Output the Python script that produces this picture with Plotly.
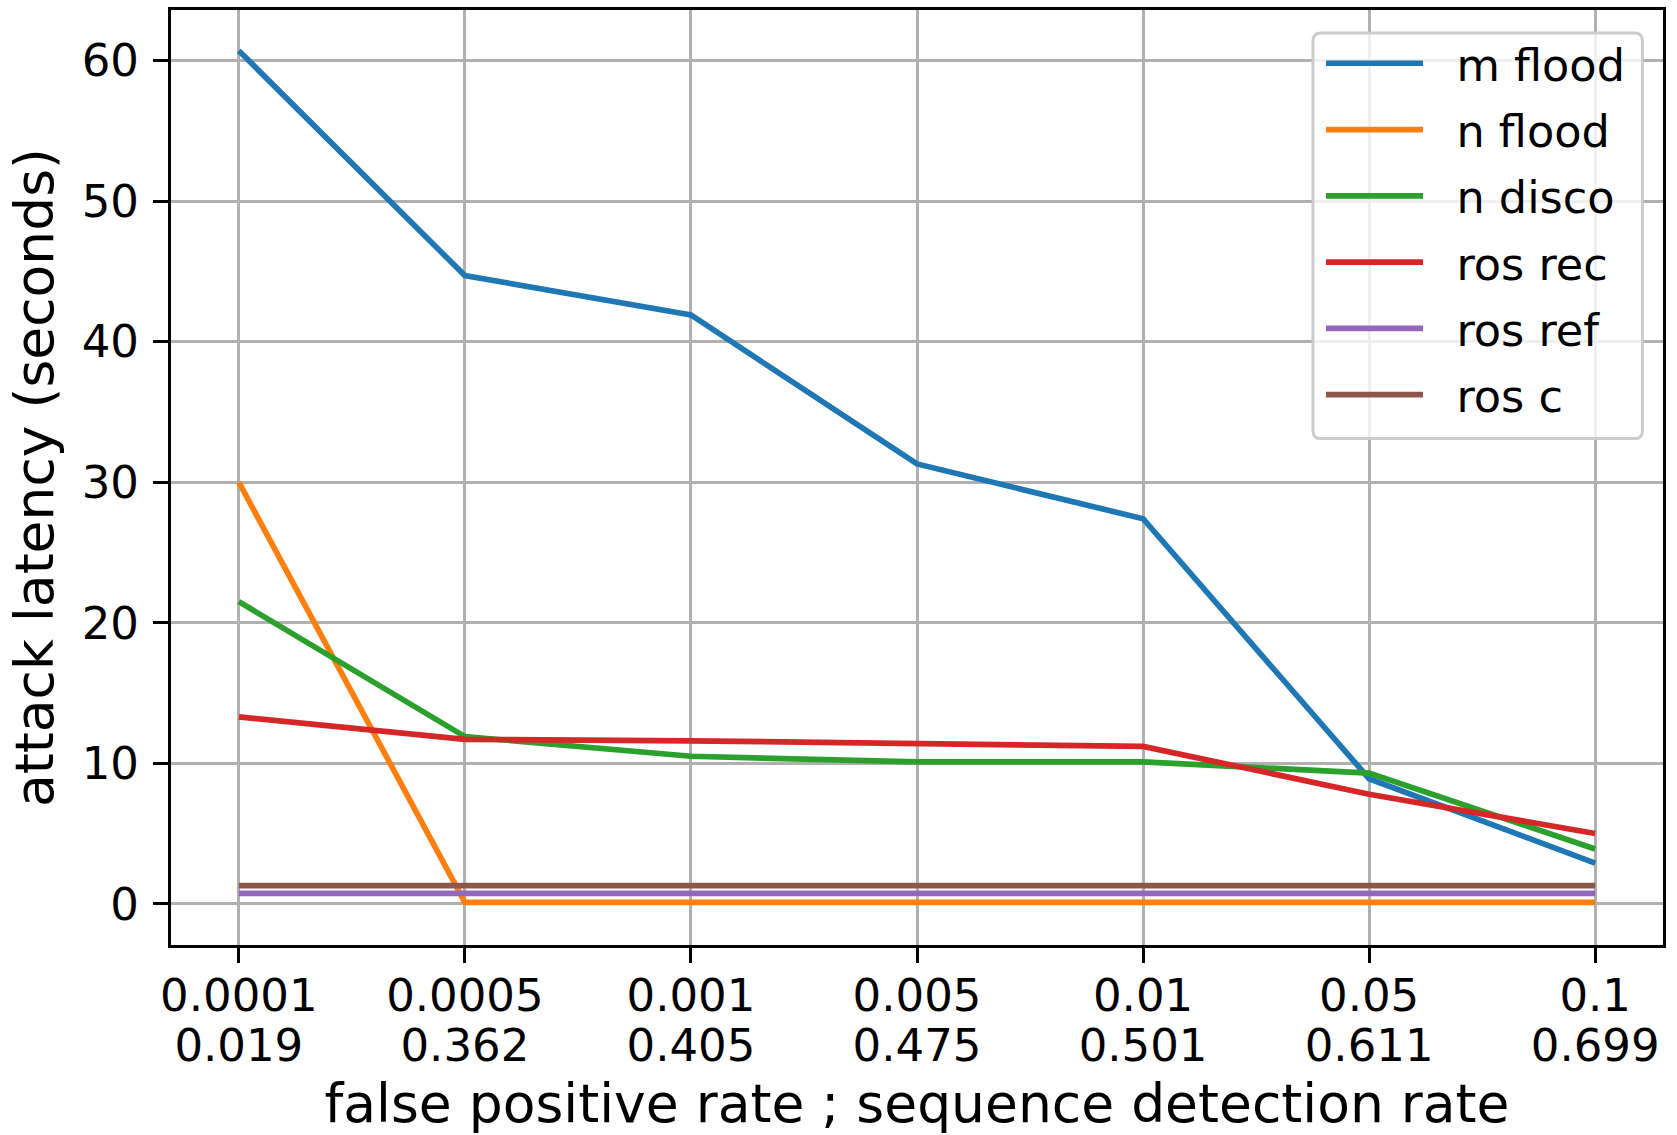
import plotly.graph_objects as go

fpr = ["0.0001", "0.0005", "0.001", "0.005", "0.01", "0.05", "0.1"]
sdr = ["0.019", "0.362", "0.405", "0.475", "0.501", "0.611", "0.699"]

m_flood = [60.7, 44.7, 41.9, 31.3, 27.4, 8.9, 2.9]
n_flood = [30.0, 0.1, 0.1, 0.1, 0.1, 0.1, 0.1]
n_disco = [21.5, 11.9, 10.5, 10.1, 10.1, 9.3, 3.9]
ros_rec = [13.3, 11.7, 11.6, 11.4, 11.2, 7.8, 5.0]
ros_ref = [0.75, 0.75, 0.75, 0.75, 0.75, 0.75, 0.75]
ros_c = [1.3, 1.3, 1.3, 1.3, 1.3, 1.3, 1.3]

series = [
    ("m flood", m_flood, "#1f77b4"),
    ("n flood", n_flood, "#ff7f0e"),
    ("n disco", n_disco, "#2ca02c"),
    ("ros rec", ros_rec, "#d62728"),
    ("ros ref", ros_ref, "#9467bd"),
    ("ros c", ros_c, "#8c564b"),
]

FONT = "DejaVu Sans"
TICK_FS = 45
LEG_FS = 44.6
TITLE_FS = 53.5
PAD = "\u00a0\u00a0"

n = len(sdr)
fig = go.Figure()
for name, vals, col in series:
    fig.add_trace(go.Scatter(
        x=fpr, y=vals, mode="lines", name=PAD + name,
        line=dict(color=col, width=5.7), legendgroup=name,
    ))
# helper trace (no visible marks) so the second-row tick axis is rendered
fig.add_trace(go.Scatter(
    x=list(range(n)), y=[None] * n, xaxis="x2", mode="lines",
    showlegend=False, hoverinfo="skip",
))

axis_common = dict(
    showline=True, linecolor="black", linewidth=3, mirror=True,
    ticks="outside", ticklen=15, tickwidth=3, tickcolor="black",
    showgrid=True, gridcolor="#b0b0b0", gridwidth=3, zeroline=False,
    tickfont=dict(family=FONT, size=TICK_FS, color="black"),
)

# legend frame (rounded), paper coordinates of the plot area
X0, X1, Y0, Y1 = 0.7654, 0.9862, 0.5416, 0.9755
RX, RY = 8 / 1492, 8 / 938
frame = (
    f"M{X0+RX},{Y1} L{X1-RX},{Y1} Q{X1},{Y1} {X1},{Y1-RY} "
    f"L{X1},{Y0+RY} Q{X1},{Y0} {X1-RX},{Y0} "
    f"L{X0+RX},{Y0} Q{X0},{Y0} {X0},{Y0+RY} "
    f"L{X0},{Y1-RY} Q{X0},{Y1} {X0+RX},{Y1} Z"
)

fig.update_layout(
    width=1677, height=1135,
    margin=dict(l=171, r=14, t=7, b=190),
    paper_bgcolor="white", plot_bgcolor="white",
    font=dict(family=FONT, size=TICK_FS, color="black"),
    xaxis=dict(
        **axis_common, type="category", range=[-0.3, n - 1 + 0.3],
        ticklabelstandoff=-6,
    ),
    xaxis2=dict(
        overlaying="x", anchor="y", side="bottom", type="linear",
        range=[-0.3, n - 1 + 0.3], tickmode="array",
        tickvals=list(range(n)), ticktext=sdr,
        showline=False, showgrid=False, zeroline=False,
        ticks="outside", ticklen=15, tickcolor="rgba(0,0,0,0)",
        ticklabelstandoff=46,
        tickfont=dict(family=FONT, size=TICK_FS, color="black"),
        title=dict(text="false positive rate ; sequence detection rate",
                   font=dict(family=FONT, size=TITLE_FS), standoff=11),
    ),
    yaxis=dict(
        **axis_common, range=[-2.93, 63.6], tickvals=[0, 10, 20, 30, 40, 50, 60],
        ticklabelstandoff=5,
        title=dict(text="attack latency (seconds)",
                   font=dict(family=FONT, size=TITLE_FS), standoff=12),
    ),
    shapes=[dict(
        type="path", path=frame, xref="paper", yref="paper", layer="above",
        fillcolor="rgba(255,255,255,0.8)", line=dict(color="#cccccc", width=3),
    )],
    legend=dict(
        x=0.7708, y=0.981, xanchor="left", yanchor="top",
        bgcolor="rgba(0,0,0,0)", borderwidth=0,
        font=dict(family=FONT, size=LEG_FS, color="black"),
        tracegroupgap=5.3, itemwidth=97,
    ),
    showlegend=True,
)

fig.write_html("out.html")
